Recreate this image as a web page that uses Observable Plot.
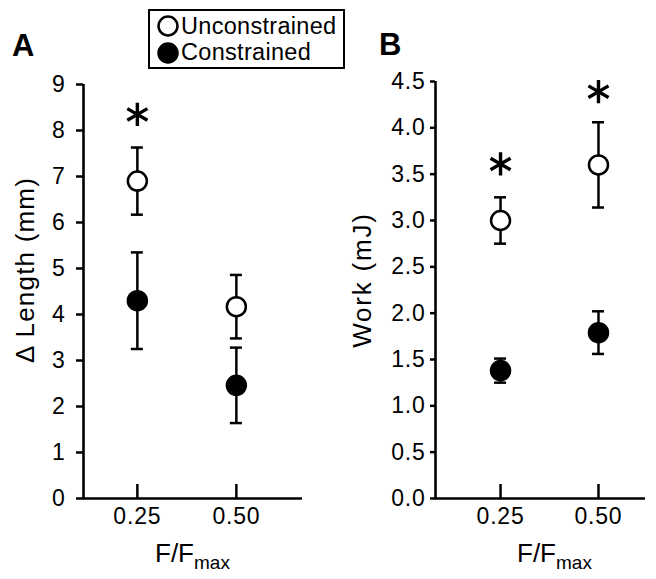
<!DOCTYPE html>
<html>
<head>
<meta charset="utf-8">
<script src="https://cdn.jsdelivr.net/npm/d3@7"></script>
<script src="https://cdn.jsdelivr.net/npm/@observablehq/plot@0.6"></script>
<style>
  body { margin: 0; background: white; }
  #wrap { position: relative; width: 656px; height: 579px; overflow: hidden; background: white; }
  #wrap > svg { position: absolute; top: 0; }
</style>
</head>
<body>
<div id="wrap"></div>
<script>
// ---- data ----
const loads = [0.25, 0.50];
const xTickLabels = ["0.25", "0.50"];

// Panel A: change in length (mm)
const lenUnc = [6.90, 4.17];
const lenUncErr = [0.73, 0.69];
const lenCon = [4.30, 2.46];
const lenConErr = [1.05, 0.82];
const sigA = [{load: 0.25, y: 8.35}];
const yTicksA = [0, 1, 2, 3, 4, 5, 6, 7, 8, 9];

// Panel B: work (mJ)
const workUnc = [3.00, 3.60];
const workUncErr = [0.25, 0.46];
const workCon = [1.38, 1.79];
const workConErr = [0.13, 0.23];
const sigB = [{load: 0.25, y: 3.61}, {load: 0.50, y: 4.39}];
const yTicksB = [0, 0.5, 1, 1.5, 2, 2.5, 3, 3.5, 4, 4.5];

const FONT = "'Liberation Sans', Arial, Helvetica, sans-serif";
const toRows = (vals, errs) => loads.map((x, i) => ({x, y: vals[i], lo: vals[i] - errs[i], hi: vals[i] + errs[i]}));

function panel({unc, con, sig, yTicks, yDomain, xDomain, width, height, margins, yFormat, tickSize, tickPadding}) {
  const [mt, mr, mb, ml] = margins;
  const innerH = height - mt - mb;
  const errs = [...con, ...unc];
  const capInset = {insetLeft: -6, insetRight: -6};
  const svg = Plot.plot({
    width, height,
    marginTop: mt, marginRight: mr, marginBottom: mb, marginLeft: ml,
    style: {fontSize: "23px", fontFamily: FONT, color: "black", background: "transparent", overflow: "visible"},
    x: {domain: xDomain},
    y: {domain: yDomain},
    marks: [
      Plot.axisY({ticks: yTicks, tickSize, tickPadding, strokeWidth: 2.5, tickFormat: yFormat, label: null}),
      Plot.axisX({ticks: loads, tickSize: 0, tickPadding: 9, tickFormat: d => xTickLabels[loads.indexOf(d)], label: null}),
      Plot.tickX(loads, {x: d => d, insetTop: innerH - 14, stroke: "black", strokeWidth: 2.5}),
      Plot.ruleX([xDomain[0]], {stroke: "black", strokeWidth: 2.6}),
      Plot.ruleY([0], {stroke: "black", strokeWidth: 2.6}),
      // error bars
      Plot.ruleX(errs, {x: "x", y1: "lo", y2: "hi", stroke: "black", strokeWidth: 2.5}),
      Plot.ruleY(errs, {y: "hi", x1: "x", x2: "x", ...capInset, stroke: "black", strokeWidth: 2.5}),
      Plot.ruleY(errs, {y: "lo", x1: "x", x2: "x", ...capInset, stroke: "black", strokeWidth: 2.5}),
      // means
      Plot.dot(unc, {x: "x", y: "y", r: 9.5, fill: "white", stroke: "black", strokeWidth: 2.5}),
      Plot.dot(con, {x: "x", y: "y", r: 9.5, fill: "black", stroke: "black", strokeWidth: 2.5}),
      // significance
      Plot.dot(sig, {x: "load", y: "y", symbol: "asterisk", r: 11, stroke: "black", strokeWidth: 3.4})
    ]
  });
  // tick label typography
  d3.select(svg).selectAll("text")
    .style("font-size", "23px").style("letter-spacing", "0.8px").style("font-family", FONT);
  return svg;
}

const wrap = document.getElementById("wrap");

const plotA = panel({
  unc: toRows(lenUnc, lenUncErr), con: toRows(lenCon, lenConErr), sig: sigA,
  yTicks: yTicksA, yDomain: [0, 9], xDomain: [0.114, 0.667],
  width: 330, height: 579, margins: [84, 28, 81, 83],
  yFormat: d3.format("d"), tickSize: 7, tickPadding: 11
});
plotA.style.left = "0px";
wrap.appendChild(plotA);

const plotB = panel({
  unc: toRows(workUnc, workUncErr), con: toRows(workCon, workConErr), sig: sigB,
  yTicks: yTicksB, yDomain: [0, 4.5], xDomain: [0.084, 0.62],
  width: 326, height: 579, margins: [81, 11, 81, 105],
  yFormat: d3.format(".1f"), tickSize: 5, tickPadding: 5
});
plotB.style.left = "330px";
wrap.appendChild(plotB);

// ---- overlay text: panel letters, legend, axis titles ----
const ov = d3.create("svg").attr("width", 656).attr("height", 579)
  .style("left", "0px").style("pointer-events", "none")
  .attr("font-family", FONT).attr("fill", "black");

ov.append("text").attr("x", 12).attr("y", 56).attr("font-size", 31).attr("font-weight", "bold").text("A");
ov.append("text").attr("x", 379).attr("y", 55).attr("font-size", 31).attr("font-weight", "bold").text("B");

// legend
ov.append("rect").attr("x", 149).attr("y", 10).attr("width", 195).attr("height", 58)
  .attr("fill", "white").attr("stroke", "black").attr("stroke-width", 2);
ov.append("circle").attr("cx", 168).attr("cy", 26).attr("r", 9.5).attr("fill", "white").attr("stroke", "black").attr("stroke-width", 2.5);
ov.append("circle").attr("cx", 168).attr("cy", 53).attr("r", 9.5).attr("fill", "black").attr("stroke", "black").attr("stroke-width", 2.5);
ov.append("text").attr("x", 181).attr("y", 34).attr("font-size", 23.5).attr("letter-spacing", "0.3px").text("Unconstrained");
ov.append("text").attr("x", 181).attr("y", 60).attr("font-size", 23.5).attr("letter-spacing", "0.3px").text("Constrained");

// y titles
ov.append("text").attr("transform", "translate(34,270) rotate(-90)").attr("text-anchor", "middle")
  .attr("font-size", 26).attr("letter-spacing", "1.2px").text("\u0394 Length (mm)");
ov.append("text").attr("transform", "translate(371,280) rotate(-90)").attr("text-anchor", "middle")
  .attr("font-size", 26).attr("letter-spacing", "1.8px").text("Work (mJ)");

// x titles
for (const x0 of [155, 517]) {
  const t = ov.append("text").attr("x", x0).attr("y", 562).attr("font-size", 26);
  t.append("tspan").text("F/F");
  t.append("tspan").attr("font-size", 19).attr("dy", 7).text("max");
}
wrap.appendChild(ov.node());
</script>
</body>
</html>
